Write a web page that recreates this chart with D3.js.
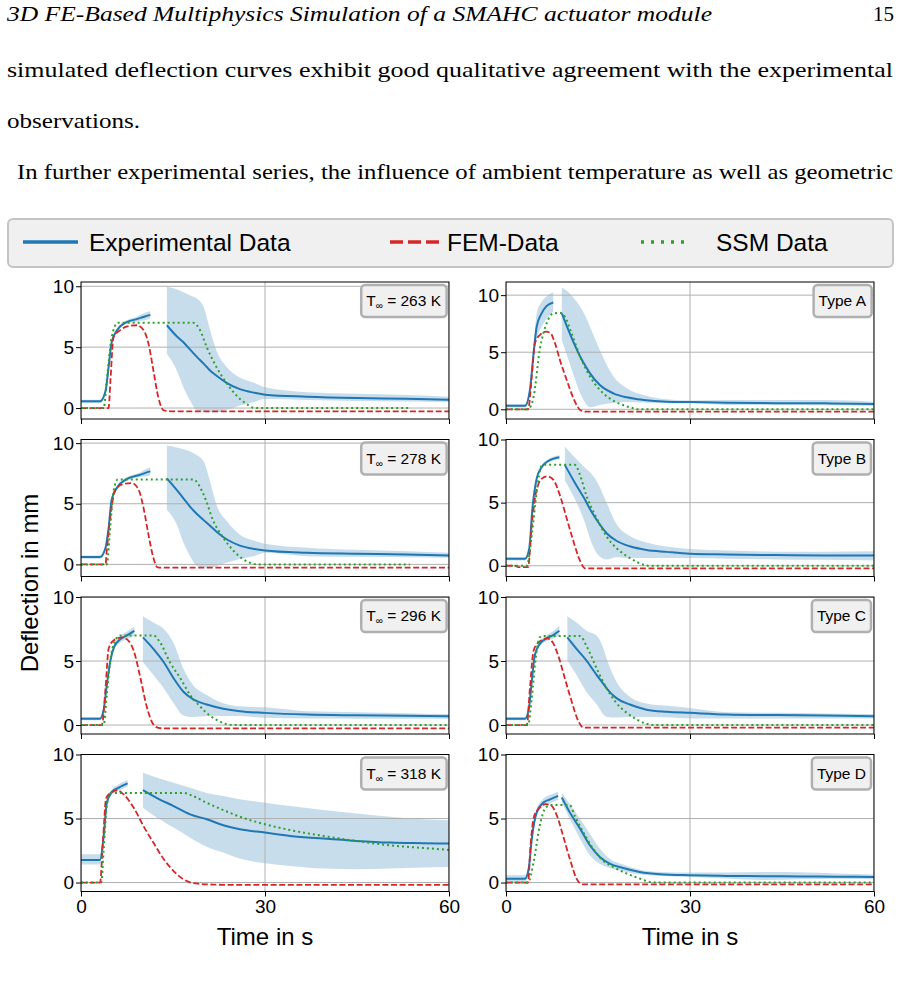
<!DOCTYPE html>
<html>
<head>
<meta charset="utf-8">
<script src="https://cdn.jsdelivr.net/npm/d3@7"></script>
<style>
  body { margin: 0; background: #fff; }
  svg { display: block; }
  .page { font-family: 'Liberation Serif', 'DejaVu Serif', serif; font-size: 21px; fill: #000; }
  .sans { font-family: 'Liberation Sans', Arial, sans-serif; fill: #000; }
</style>
</head>
<body>
<div id="chart"></div>
<script>
// ---- text of the page around the figure
const pageHeader = '3D FE-Based Multiphysics Simulation of a SMAHC actuator module'
const pageNumber = '15'
const pageLines = [
  'simulated deflection curves exhibit good qualitative agreement with the experimental',
  'observations.',
  'In further experimental series, the influence of ambient temperature as well as geometric'
]

// ---- axes
const timeDomain = [0, 60]
const timeTicks = [0, 30, 60]
const valueTicks = [0, 5, 10]
const legendLabels = ['Experimental Data', 'FEM-Data', 'SSM Data']
const xLabel = 'Time in s'
const yLabel = 'Deflection in mm'

const tempLabels = ['263 K', '278 K', '296 K', '318 K']
const typeLabels = ['Type A', 'Type B', 'Type C', 'Type D']
// y limits, row-major: 263 K, Type A, 278 K, Type B, ...
const yLimits = [[-0.9, 10.35], [-0.85, 11.15], [-1.0, 10.3], [-0.85, 10.0],
  [-0.7, 10.0], [-0.7, 10.0], [-0.7, 10.0], [-0.7, 10.0]]

// ---- experimental data: [time, mean, lower, upper]
const exp263Heat = [[0,0.55,0.42,0.68],[3.1,0.55,0.42,0.68],[4.0,1.4,1.2,1.6],[4.5,3.35,3.1,3.6],[5.0,5.4,5.2,5.6],[5.9,6.4,6.25,6.55],[7.2,7.0,6.85,7.15],[9.1,7.3,7.1,7.5],[10.3,7.5,7.2,7.8],[11.3,7.65,7.35,7.95]]
const exp263Cool = [[14,6.8,4.45,9.95],[15.6,5.9,3.1,9.75],[16.7,5.4,1.7,9.5],[17.8,4.8,0.6,9.25],[18.9,4.2,-0.2,9.0],[20.0,3.65,-0.3,8.3],[21.0,3.1,-0.35,6.5],[22.1,2.65,-0.35,4.7],[23.8,2.05,-0.15,3.35],[25.9,1.55,0.2,2.5],[28.3,1.25,0.5,2.05],[30,1.1,0.74,1.7],[36.8,0.93,0.66,1.3],[44.9,0.82,0.58,1.18],[53.1,0.77,0.53,1.08],[60,0.69,0.5,0.93]]
const exp278Heat = [[0,0.6,0.47,0.73],[3.1,0.6,0.47,0.73],[4.0,1.37,1.2,1.55],[4.5,3.0,2.75,3.25],[5.0,5.35,5.15,5.55],[5.9,6.35,6.2,6.5],[7.5,7.05,6.9,7.2],[9.7,7.4,7.2,7.6],[10.5,7.55,7.25,7.85],[11.3,7.67,7.35,8.0]]
const exp278Cool = [[14,7.1,4.5,9.8],[15.6,6.15,3.3,9.65],[16.7,5.45,1.8,9.5],[17.8,4.75,0.68,9.3],[18.9,4.15,-0.14,9.0],[20.0,3.65,-0.25,8.5],[21.0,3.2,-0.28,6.9],[22.1,2.7,-0.15,4.9],[23.8,2.05,0.15,3.55],[25.9,1.55,0.45,2.45],[28.3,1.27,0.7,1.95],[30,1.15,0.96,1.7],[36.8,0.96,0.68,1.37],[44.9,0.88,0.62,1.2],[53.1,0.82,0.58,1.08],[60,0.74,0.55,0.96]]
const exp296Heat = [[0,0.5,0.38,0.62],[3.1,0.5,0.38,0.62],[3.7,1.2,1.0,1.4],[4.2,3.1,2.85,3.35],[4.8,5.05,4.85,5.25],[5.4,6.1,5.9,6.3],[6.4,6.7,6.45,6.95],[7.5,7.0,6.7,7.3],[8.7,7.35,7.0,7.7]]
const exp296Cool = [[10.1,6.85,4.9,8.5],[11.8,5.95,3.9,8.0],[13.5,4.9,2.87,7.5],[15.1,3.65,1.7,6.4],[16.7,2.6,0.75,4.4],[18.3,2.0,0.62,3.1],[20.5,1.6,0.7,2.35],[23.2,1.28,0.7,1.7],[25.9,1.08,0.7,1.46],[30,0.95,0.56,1.38],[36.8,0.82,0.51,1.07],[44.9,0.76,0.5,1.0],[53.1,0.72,0.5,0.93],[60,0.69,0.5,0.87]]
const exp318Heat = [[0,1.77,1.4,2.2],[3.1,1.77,1.4,2.2],[3.7,3.64,3.35,3.95],[4.2,6.2,5.95,6.45],[5.0,7.06,6.85,7.25],[6.1,7.4,7.15,7.65],[7.6,7.74,7.5,8.0]]
const exp318Cool = [[10.1,7.22,5.84,8.57],[12.4,6.6,5.06,8.18],[15.1,5.97,4.29,7.8],[17.8,5.32,3.5,7.4],[20.5,4.94,2.8,7.0],[23.2,4.47,2.34,6.75],[25.9,4.16,1.87,6.5],[30,3.9,1.5,6.23],[34.1,3.64,1.3,5.97],[39.5,3.43,1.09,5.66],[44.9,3.25,1.04,5.4],[50.4,3.12,1.09,5.14],[55.8,3.07,1.17,4.94],[60,3.04,1.22,4.86]]
const expAHeat = [[0,0.3,0.15,0.45],[3.1,0.3,0.15,0.45],[3.9,1.7,1.5,1.9],[4.5,4.9,4.5,5.3],[5.0,7.23,6.1,8.4],[5.8,8.4,7.2,9.4],[6.6,9.04,7.9,9.9],[7.7,9.36,8.54,10.26]]
const expACool = [[9.1,8.4,6.06,10.67],[10.4,6.65,4.0,10.15],[11.4,5.4,2.4,9.5],[12.1,4.6,1.4,8.98],[13.0,3.75,0.5,8.1],[13.7,3.15,0.17,7.23],[15.3,2.13,0.38,5.19],[17.5,1.4,0.55,2.9],[19.7,1.05,0.64,1.85],[22.4,0.82,0.6,1.25],[26.2,0.67,0.52,0.87],[30,0.64,0.52,0.76],[36,0.58,0.38,0.82],[44,0.54,0.38,0.82],[52,0.52,0.35,0.82],[60,0.47,0.29,0.67]]
const expBHeat = [[0,0.55,0.42,0.68],[3.1,0.55,0.42,0.68],[3.8,1.4,1.25,1.55],[4.3,4.5,4.3,4.7],[5.0,6.9,6.7,7.1],[5.8,7.8,7.65,7.95],[6.9,8.3,8.15,8.45],[8.7,8.6,8.45,8.75]]
const expBCool = [[9.6,7.97,6.75,9.43],[11.2,6.6,5.3,8.6],[12.8,5.3,3.5,7.8],[13.8,4.4,2.0,7.35],[14.8,3.62,1.0,6.7],[16.4,2.58,0.5,5.0],[18.0,1.98,0.68,3.3],[20.2,1.54,0.62,2.35],[22.9,1.25,0.62,1.85],[26.2,1.1,0.62,1.52],[30,0.96,0.62,1.33],[36,0.9,0.55,1.2],[44,0.85,0.5,1.12],[52,0.82,0.47,1.12],[60,0.81,0.42,1.15]]
const expCHeat = [[0,0.5,0.38,0.62],[3.1,0.5,0.38,0.62],[3.7,1.2,1.0,1.4],[4.2,3.4,3.15,3.65],[4.7,5.45,5.25,5.65],[5.5,6.33,6.15,6.5],[6.6,6.77,6.55,7.0],[7.7,7.03,6.75,7.35],[8.7,7.36,7.0,7.75]]
const expCCool = [[10.0,6.85,5.05,8.5],[11.5,5.95,3.9,8.0],[13.1,5.05,2.6,7.36],[14.8,3.9,1.6,6.97],[15.9,3.2,0.82,5.95],[16.4,2.87,0.65,5.2],[18.0,2.1,0.58,3.4],[20.2,1.6,0.62,2.2],[22.9,1.2,0.62,1.68],[26.2,1.03,0.6,1.5],[30,0.95,0.51,1.33],[36,0.83,0.51,1.0],[44,0.78,0.51,0.95],[52,0.74,0.51,0.9],[60,0.69,0.51,0.87]]
const expDHeat = [[0,0.3,0.05,0.57],[3.1,0.3,0.05,0.57],[3.7,1.08,0.8,1.35],[4.2,3.4,3.1,3.7],[5.0,5.48,5.2,5.75],[6.1,6.25,5.95,6.55],[7.2,6.5,6.2,6.85],[8.5,6.77,6.45,7.1]]
const expDCool = [[9.1,6.64,6.25,7.03],[10.4,5.48,4.96,6.12],[12.1,4.19,3.41,4.96],[13.7,2.89,2.12,3.8],[15.3,1.99,1.47,2.64],[16.9,1.47,1.14,1.86],[19.1,1.14,0.88,1.4],[21.8,0.83,0.62,1.0],[25.1,0.65,0.52,0.83],[30,0.57,0.44,0.78],[36,0.52,0.31,0.78],[42,0.5,0.2,0.83],[48,0.48,0.25,0.8],[54,0.46,0.3,0.7],[60,0.44,0.26,0.62]]

// ---- FEM simulation: [time, deflection]
const fem263 = [[0,0],[4.5,0],[4.8,2.25],[5.3,5.8],[6.4,6.4],[7.5,6.7],[9.1,6.8],[10.2,6.4],[11.0,5.3],[11.8,3.1],[12.6,0.9],[13.5,-0.2],[15.1,-0.27],[60,-0.27]]
const fem278 = [[0,0],[4.0,0],[4.2,1.1],[4.9,4.4],[5.6,6.15],[6.7,6.6],[8.3,6.7],[9.4,6.15],[10.2,4.65],[11.0,2.45],[11.8,0.55],[12.4,-0.22],[13.2,-0.27],[60,-0.27]]
const fem296 = [[0,0],[3.4,0],[4.0,2.9],[4.5,5.95],[5.3,6.6],[6.7,6.85],[7.6,6.65],[8.6,5.8],[9.7,3.65],[10.7,1.46],[11.8,0.05],[12.6,-0.22],[13.5,-0.26],[60,-0.26]]
const fem318 = [[0,0],[3.1,0],[3.6,3.4],[4.1,6.6],[5.0,7.06],[5.9,7.2],[6.9,6.9],[8.6,5.84],[10.2,4.4],[11.8,3.12],[13.5,1.82],[15.1,0.9],[16.7,0.26],[18.3,-0.05],[21.6,-0.16],[24.0,-0.18],[60,-0.18]]
const femA = [[0,0],[3.6,0],[4.2,2.86],[4.7,5.77],[5.5,6.5],[6.5,6.8],[7.2,6.7],[8.0,5.77],[8.8,4.3],[9.9,2.57],[11.0,0.96],[12.1,-0.06],[12.9,-0.2],[14.0,-0.2],[60,-0.2]]
const femB = [[0,0],[1.5,0],[2.0,-0.1],[3.6,-0.1],[4.2,3.23],[4.9,5.83],[5.8,6.88],[6.7,7.08],[7.7,6.82],[8.8,5.57],[9.9,3.75],[11.0,1.93],[12.1,0.36],[12.9,-0.2],[14.0,-0.2],[60,-0.2]]
const femC = [[0,0],[3.4,0],[3.9,2.87],[4.5,5.8],[5.4,6.5],[6.7,6.77],[7.6,6.46],[8.5,5.45],[9.6,3.64],[10.7,1.85],[11.8,0.3],[12.6,-0.2],[13.5,-0.2],[60,-0.2]]
const femD = [[0,0],[3.6,0],[4.0,2.89],[4.6,5.22],[5.3,5.74],[6.4,6.12],[7.3,6.05],[8.3,5.22],[9.3,3.67],[10.4,1.86],[11.5,0.31],[12.5,-0.15],[13.5,-0.15],[60,-0.15]]

// ---- SSM simulation: [time, deflection]
const ssm263 = [[0,0],[3.7,0],[4.2,2.25],[5.0,5.8],[6.0,7.0],[18.3,7.0],[19.4,6.4],[20.5,5.0],[22.1,3.35],[23.8,2.0],[25.4,1.0],[27.0,0.33],[28.1,0.03],[29.0,0],[53.6,0]]
const ssm278 = [[0,0],[4.2,0],[4.8,3.3],[5.3,6.0],[6.0,7.0],[18.3,7.0],[20.0,5.75],[21.6,3.55],[23.2,2.2],[24.9,1.1],[26.5,0.4],[28.1,0.05],[29.0,0],[53.6,0]]
const ssm296 = [[0,0],[3.7,0],[4.2,2.35],[4.9,5.45],[5.9,6.85],[6.5,7.0],[11.8,7.0],[12.9,6.45],[14.5,4.9],[16.2,3.65],[17.8,2.35],[19.4,1.46],[21.1,0.7],[22.7,0.26],[23.8,0.05],[25.0,0],[60,0]]
const ssm318 = [[0,0],[3.3,0],[3.7,2.6],[4.2,6.0],[4.9,7.0],[16.7,7.0],[18.3,6.75],[20.5,6.23],[23.2,5.66],[25.9,5.14],[30,4.55],[34.1,4.1],[39.5,3.64],[44.9,3.25],[50.4,2.9],[55.8,2.7],[60,2.55]]
const ssmA = [[0,0],[3.6,0],[4.5,1.1],[5.5,5.2],[6.6,7.5],[7.7,8.4],[8.8,8.45],[9.6,8.1],[10.7,6.65],[12.1,4.6],[13.7,2.86],[15.3,1.7],[16.9,0.96],[18.6,0.47],[20.2,0.17],[21.8,0],[60,0]]
const ssmB = [[0,0],[3.4,0],[4.2,2.45],[5.0,5.83],[5.8,7.92],[6.3,8.0],[11.2,8.0],[12.1,7.14],[13.1,5.57],[14.8,3.75],[16.4,2.32],[18.0,1.4],[19.7,0.76],[21.3,0.31],[22.6,0.05],[23.5,0],[60,0]]
const ssmC = [[0,0],[3.6,0],[4.2,2.1],[4.9,5.45],[5.5,6.85],[6.0,6.95],[12.1,6.95],[13.1,6.2],[14.8,4.4],[16.4,2.87],[18.0,1.72],[19.7,0.95],[21.3,0.44],[22.9,0.1],[24.0,0],[60,0]]
const ssmD = [[0,0],[3.6,0],[4.5,1.6],[5.5,4.44],[6.5,5.87],[7.4,6.05],[10.4,6.05],[11.2,5.22],[12.6,3.93],[14.2,2.64],[15.8,1.73],[17.5,1.21],[19.7,0.7],[21.8,0.31],[23.5,0.05],[25.0,0],[60,0]]

// panel table, row-major
const panels = [
  { label: tempLabels[0], temp: true, heat: exp263Heat, cool: exp263Cool, fem: fem263, ssm: ssm263 },
  { label: typeLabels[0], temp: false, heat: expAHeat, cool: expACool, fem: femA, ssm: ssmA },
  { label: tempLabels[1], temp: true, heat: exp278Heat, cool: exp278Cool, fem: fem278, ssm: ssm278 },
  { label: typeLabels[1], temp: false, heat: expBHeat, cool: expBCool, fem: femB, ssm: ssmB },
  { label: tempLabels[2], temp: true, heat: exp296Heat, cool: exp296Cool, fem: fem296, ssm: ssm296 },
  { label: typeLabels[2], temp: false, heat: expCHeat, cool: expCCool, fem: femC, ssm: ssmC },
  { label: tempLabels[3], temp: true, heat: exp318Heat, cool: exp318Cool, fem: fem318, ssm: ssm318 },
  { label: typeLabels[3], temp: false, heat: expDHeat, cool: expDCool, fem: femD, ssm: ssmD }
]
panels.forEach((p, i) => { p.yLim = yLimits[i] })

const colors = { exp: '#1f77b4', fem: '#d62728', ssm: '#2ca02c' }

const width = 902
const height = 990
const colLeft = [81, 506]
const plotW = 368
const plotH = 137
const rowTop = 282
const rowPitch = 157.5

const svg = d3
  .select('#chart')
  .append('svg')
  .attr('width', width)
  .attr('height', height)

// page text (glyphs stretched a bit, the original face is wider)
svg.append('text')
  .attr('class', 'page')
  .attr('x', 7)
  .attr('y', 21)
  .style('font-style', 'italic')
  .attr('textLength', 705)
  .attr('lengthAdjust', 'spacingAndGlyphs')
  .text(pageHeader)

svg.append('text')
  .attr('class', 'page')
  .attr('x', 894)
  .attr('y', 21)
  .attr('text-anchor', 'end')
  .text(pageNumber)

svg.append('text').attr('class', 'page')
  .attr('x', 7).attr('y', 77)
  .attr('textLength', 886).attr('lengthAdjust', 'spacingAndGlyphs')
  .text(pageLines[0])

svg.append('text').attr('class', 'page')
  .attr('x', 7).attr('y', 128)
  .attr('textLength', 133).attr('lengthAdjust', 'spacingAndGlyphs')
  .text(pageLines[1])

svg.append('text').attr('class', 'page')
  .attr('x', 17).attr('y', 179)
  .attr('textLength', 876).attr('lengthAdjust', 'spacingAndGlyphs')
  .text(pageLines[2])

// legend
const legend = svg.append('g').attr('class', 'sans')
legend.append('rect')
  .attr('x', 8).attr('y', 219)
  .attr('width', 885).attr('height', 48)
  .attr('rx', 5)
  .attr('fill', '#f0f0f0')
  .attr('stroke', '#c4c4c4')
  .attr('stroke-width', 2)

const legendItems = [
  { x1: 23, x2: 78, tx: 89, color: colors.exp, dash: null },
  { x1: 390, x2: 441, tx: 447, color: colors.fem, dash: '13,5' },
  { x1: 641, x2: 691, tx: 716, color: colors.ssm, dash: '3,7' }
]
legendItems.forEach((d, i) => {
  legend.append('line')
    .attr('x1', d.x1).attr('x2', d.x2)
    .attr('y1', 242).attr('y2', 242)
    .attr('stroke', d.color)
    .attr('stroke-width', 3.5)
    .attr('stroke-dasharray', d.dash)
  legend.append('text')
    .attr('x', d.tx).attr('y', 251)
    .attr('font-size', 24.5)
    .text(legendLabels[i])
})

const line = (x, y) => d3.line().x(d => x(d[0])).y(d => y(d[1])).curve(d3.curveMonotoneX)

panels.forEach((p, i) => {
  const col = i % 2
  const row = Math.floor(i / 2)
  const bottomRow = row === 3

  const g = svg.append('g')
    .attr('class', 'sans')
    .attr('transform', `translate(${colLeft[col]},${rowTop + row * rowPitch})`)

  const x = d3.scaleLinear().domain(timeDomain).range([0, plotW])
  const y = d3.scaleLinear().domain(p.yLim).range([plotH, 0])

  const clipId = 'clip' + i
  g.append('clipPath').attr('id', clipId)
    .append('rect').attr('width', plotW).attr('height', plotH)

  const plot = g.append('g').attr('clip-path', `url(#${clipId})`)

  // std band of the measurements
  const band = d3.area()
    .x(d => x(d[0]))
    .y0(d => y(d[2]))
    .y1(d => y(d[3]))
    .curve(d3.curveMonotoneX)

  ;[p.heat, p.cool].forEach(seg => {
    plot.append('path')
      .datum(seg)
      .attr('d', band)
      .attr('fill', colors.exp)
      .attr('fill-opacity', 0.25)
  })

  // grid
  plot.selectAll('.hgrid')
    .data(valueTicks.filter(v => v <= p.yLim[1]))
    .enter()
    .append('line')
    .attr('x1', 0).attr('x2', plotW)
    .attr('y1', d => y(d)).attr('y2', d => y(d))
    .attr('stroke', '#b0b0b0')
    .attr('stroke-width', 1)

  plot.selectAll('.vgrid')
    .data(timeTicks)
    .enter()
    .append('line')
    .attr('x1', d => x(d)).attr('x2', d => x(d))
    .attr('y1', 0).attr('y2', plotH)
    .attr('stroke', '#b0b0b0')
    .attr('stroke-width', 1)

  // lines
  ;[p.heat, p.cool].forEach(seg => {
    plot.append('path')
      .datum(seg)
      .attr('d', line(x, y))
      .attr('fill', 'none')
      .attr('stroke', colors.exp)
      .attr('stroke-width', 2)
  })

  plot.append('path')
    .datum(p.fem)
    .attr('d', line(x, y))
    .attr('fill', 'none')
    .attr('stroke', colors.fem)
    .attr('stroke-width', 1.8)
    .attr('stroke-dasharray', '6,2.6')

  plot.append('path')
    .datum(p.ssm)
    .attr('d', line(x, y))
    .attr('fill', 'none')
    .attr('stroke', colors.ssm)
    .attr('stroke-width', 2)
    .attr('stroke-dasharray', '2,3')

  // axes
  const yAxis = d3.axisLeft(y).tickValues(valueTicks.filter(v => v <= p.yLim[1])).tickSize(5).tickPadding(2)
  const yg = g.append('g').call(yAxis)
  yg.select('.domain').remove()
  yg.selectAll('text').attr('font-size', 19).attr('font-family', 'Liberation Sans, Arial, sans-serif').attr('fill', '#000')

  const xAxis = d3.axisBottom(x).tickValues(timeTicks).tickSize(5).tickPadding(3)
  if (!bottomRow) xAxis.tickFormat('')
  const xg = g.append('g').attr('transform', `translate(0,${plotH})`).call(xAxis)
  xg.select('.domain').remove()
  xg.selectAll('text').attr('font-size', 19).attr('font-family', 'Liberation Sans, Arial, sans-serif').attr('fill', '#000')

  g.append('rect')
    .attr('width', plotW).attr('height', plotH)
    .attr('fill', 'none')
    .attr('stroke', '#000')
    .attr('stroke-width', 1)

  // label box
  const label = g.append('text')
    .attr('x', plotW - 8)
    .attr('y', 24)
    .attr('text-anchor', 'end')
    .attr('font-size', 15.5)
  if (p.temp) {
    label.append('tspan').text('T')
    label.append('tspan').attr('font-size', 10).attr('dy', 3).text('∞')
    label.append('tspan').attr('dy', -3).text(' = ' + p.label)
  } else {
    label.text(p.label)
  }
  const bb = label.node().getBBox()
  g.insert('rect', () => label.node())
    .attr('x', bb.x - 5)
    .attr('y', 3)
    .attr('width', bb.width + 10)
    .attr('height', 32)
    .attr('rx', 4)
    .attr('fill', '#f0f0f0')
    .attr('stroke', '#b0b0b0')
    .attr('stroke-width', 2.5)

  if (bottomRow) {
    g.append('text')
      .attr('x', plotW / 2)
      .attr('y', plotH + 53)
      .attr('text-anchor', 'middle')
      .attr('font-size', 24)
      .text(xLabel)
  }
})

svg.append('text')
  .attr('class', 'sans')
  .attr('transform', 'translate(38,583) rotate(-90)')
  .attr('text-anchor', 'middle')
  .attr('font-size', 24)
  .text(yLabel)
</script>
</body>
</html>
